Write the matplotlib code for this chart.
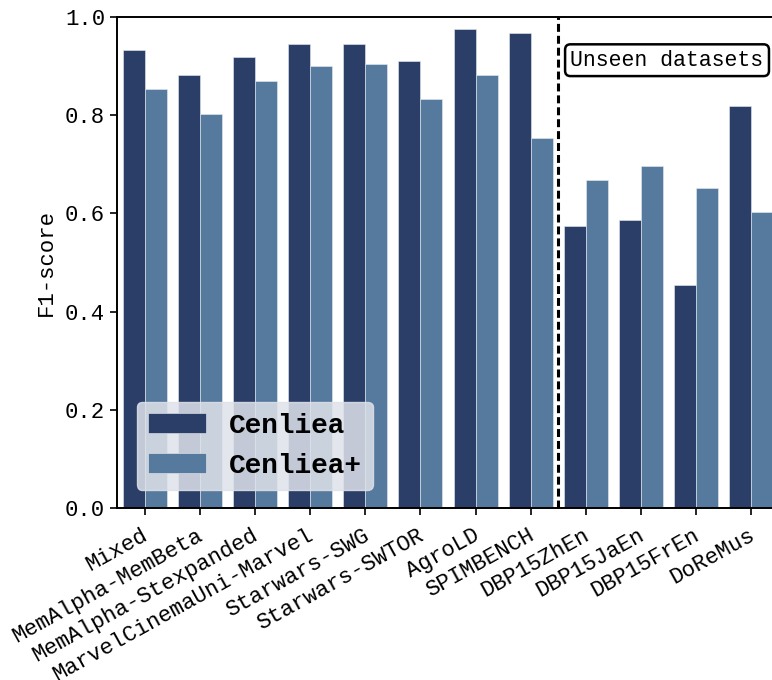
import matplotlib
matplotlib.use("Agg")
import matplotlib.pyplot as plt
import matplotlib.transforms as mtransforms
import numpy as np

datasets = ["Mixed", "MemAlpha-MemBeta", "MemAlpha-Stexpanded", "MarvelCinemaUni-Marvel",
            "Starwars-SWG", "Starwars-SWTOR", "AgroLD", "SPIMBENCH",
            "DBP15ZhEn", "DBP15JaEn", "DBP15FrEn", "DoReMus"]
cenliea = [0.933, 0.882, 0.919, 0.946, 0.946, 0.911, 0.975, 0.967, 0.574, 0.587, 0.455, 0.818]
cenliea_plus = [0.853, 0.802, 0.869, 0.900, 0.904, 0.833, 0.882, 0.753, 0.669, 0.697, 0.652, 0.602]
yticks = [0.0, 0.2, 0.4, 0.6, 0.8, 1.0]

plt.rcParams["font.family"] = ["Liberation Mono", "DejaVu Sans Mono"]

fig = plt.figure(figsize=(7.72, 6.8), dpi=100)
ax = fig.add_axes([117 / 772, 1 - 508 / 680, 662 / 772, 491 / 680])

x = np.arange(len(datasets))
w = 0.4
dark = "#2a3e68"
light = "#56799e"
ax.bar(x - w / 2, cenliea, w, color=dark, edgecolor="#e8ecf2", linewidth=0.4, label="Cenliea")
ax.bar(x + w / 2, cenliea_plus, w, color=light, edgecolor="#e8ecf2", linewidth=0.4, label="Cenliea+")

ax.set_xlim(-0.5, len(datasets) - 0.5)
ax.set_ylim(0, 1.0)
ax.set_yticks(yticks)
ax.set_yticklabels([f"{v:.1f}" for v in yticks], fontsize=16)
ax.set_xticks(x)
ax.set_xticklabels(datasets, rotation=29, ha="right", rotation_mode="anchor", fontsize=16)
ax.set_ylabel("F1-score", fontsize=16, labelpad=6)
ax.tick_params(axis="both", length=5, width=1.2)
for s in ax.spines.values():
    s.set_linewidth(1.4)

# nudge the rotated category labels slightly left and down
shift = mtransforms.ScaledTranslation(-3 / 100, -5 / 100, fig.dpi_scale_trans)
for lbl in ax.get_xticklabels():
    lbl.set_transform(lbl.get_transform() + shift)

ax.axvline(7.5, color="black", linestyle=(0, (2.6, 1.3)), linewidth=2.2)
ax.text(7.72, 0.912, "Unseen datasets", fontsize=15.5, ha="left", va="center",
        bbox=dict(boxstyle="round,pad=0.25", facecolor="white", edgecolor="black", linewidth=1.8))

leg = ax.legend(loc="lower left", bbox_to_anchor=(0.03, 0.037), borderaxespad=0,
                prop={"weight": "bold", "size": 20},
                frameon=True, fancybox=True, handlelength=2.1, handleheight=0.72,
                borderpad=0.4, labelspacing=0.5, handletextpad=0.8)
leg.get_frame().set_facecolor("#dfe3ea")
leg.get_frame().set_edgecolor("#dfe3ea")
leg.get_frame().set_alpha(0.85)

fig.savefig("out.png", dpi=100)
